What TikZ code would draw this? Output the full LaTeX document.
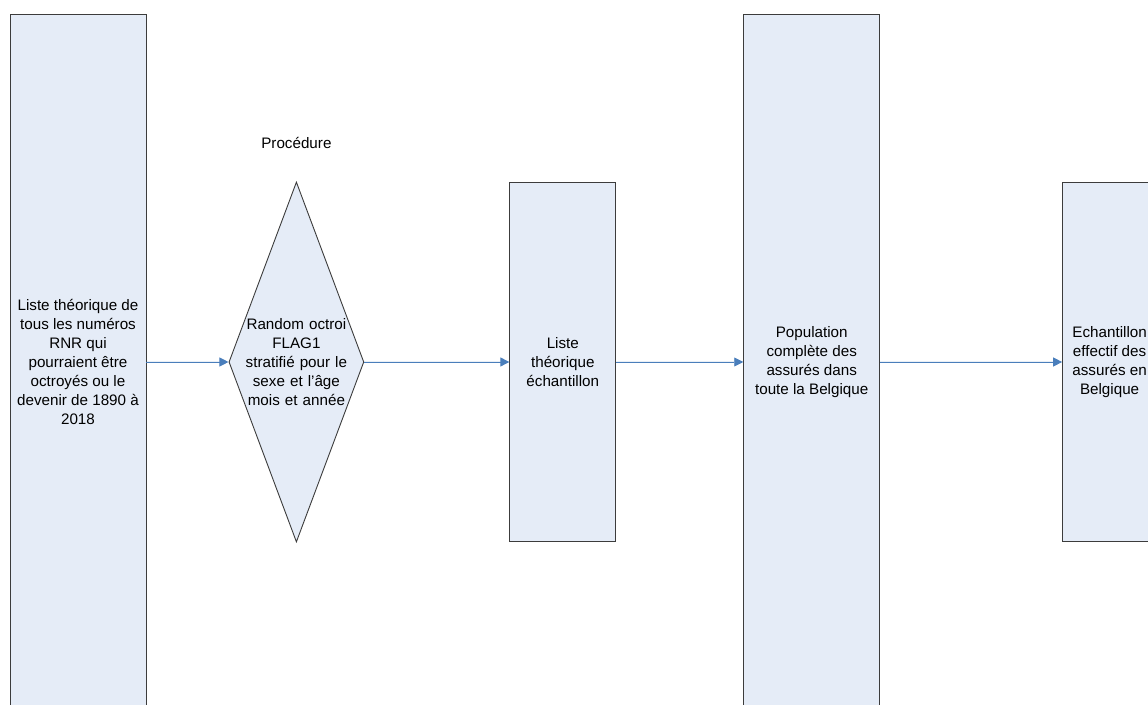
\documentclass[tikz,border=0pt]{standalone}
\usepackage{fontspec}
\setmainfont{Liberation Sans}
\usepackage{xcolor}
\usepackage{tikz}
\usetikzlibrary{shapes.geometric, arrows.meta, positioning}

\definecolor{boxfill}{HTML}{E5ECF7}
\definecolor{boxline}{HTML}{3C3C3C}
\definecolor{arrowblue}{HTML}{4A7EBB}

\begin{document}
\begin{tikzpicture}[
			x=1pt, y=1pt,
			every node/.style={align=center, font=\fontsize{15.2}{19}\selectfont},
			box/.style={draw=boxline, fill=boxfill, line width=0.9pt, rectangle, inner sep=0pt},
			decision/.style={diamond, draw=boxline, fill=boxfill, line width=0.9pt, aspect=0.375,
				minimum width=135pt, minimum height=360pt, inner sep=-8pt, text width=108pt},
			arrow/.style={-{Triangle[length=9pt, width=9pt]}, draw=arrowblue, fill=arrowblue, line width=0.9pt}
			]
			\useasboundingbox (0,0) rectangle (1148,704);
			
			% Nodes
			\node (rnr) [box, minimum width=136pt, minimum height=696pt] at (78,342)
				{Liste théorique de\\tous les numéros\\RNR qui\\pourraient être\\octroyés ou le\\devenir de 1890 à\\2018};
			\node (flag) [decision, right=82pt of rnr]
				{Random octroi\\FLAG1\\stratifié pour le\\sexe et l’âge\\mois et année};
			\node (proc) [above=29pt of flag.north] {Procédure};
			\node (liste) [box, minimum width=106pt, minimum height=359pt, right=145pt of flag]
				{Liste\\théorique\\échantillon};
			\node (pop) [box, minimum width=136pt, minimum height=696pt, right=127pt of liste]
				{Population\\complète des\\assurés dans\\toute la Belgique};
			\node (ech) [box, minimum width=94pt, minimum height=359pt, right=182pt of pop]
				{Echantillon\\effectif des\\assurés en\\Belgique};
			
			% Connections
			\draw [arrow] (rnr) -- (flag);
			\draw [arrow] (flag) -- (liste);
			\draw [arrow] (liste) -- (pop);
			\draw [arrow] (pop) -- (ech);
			
		\end{tikzpicture}
\end{document}
